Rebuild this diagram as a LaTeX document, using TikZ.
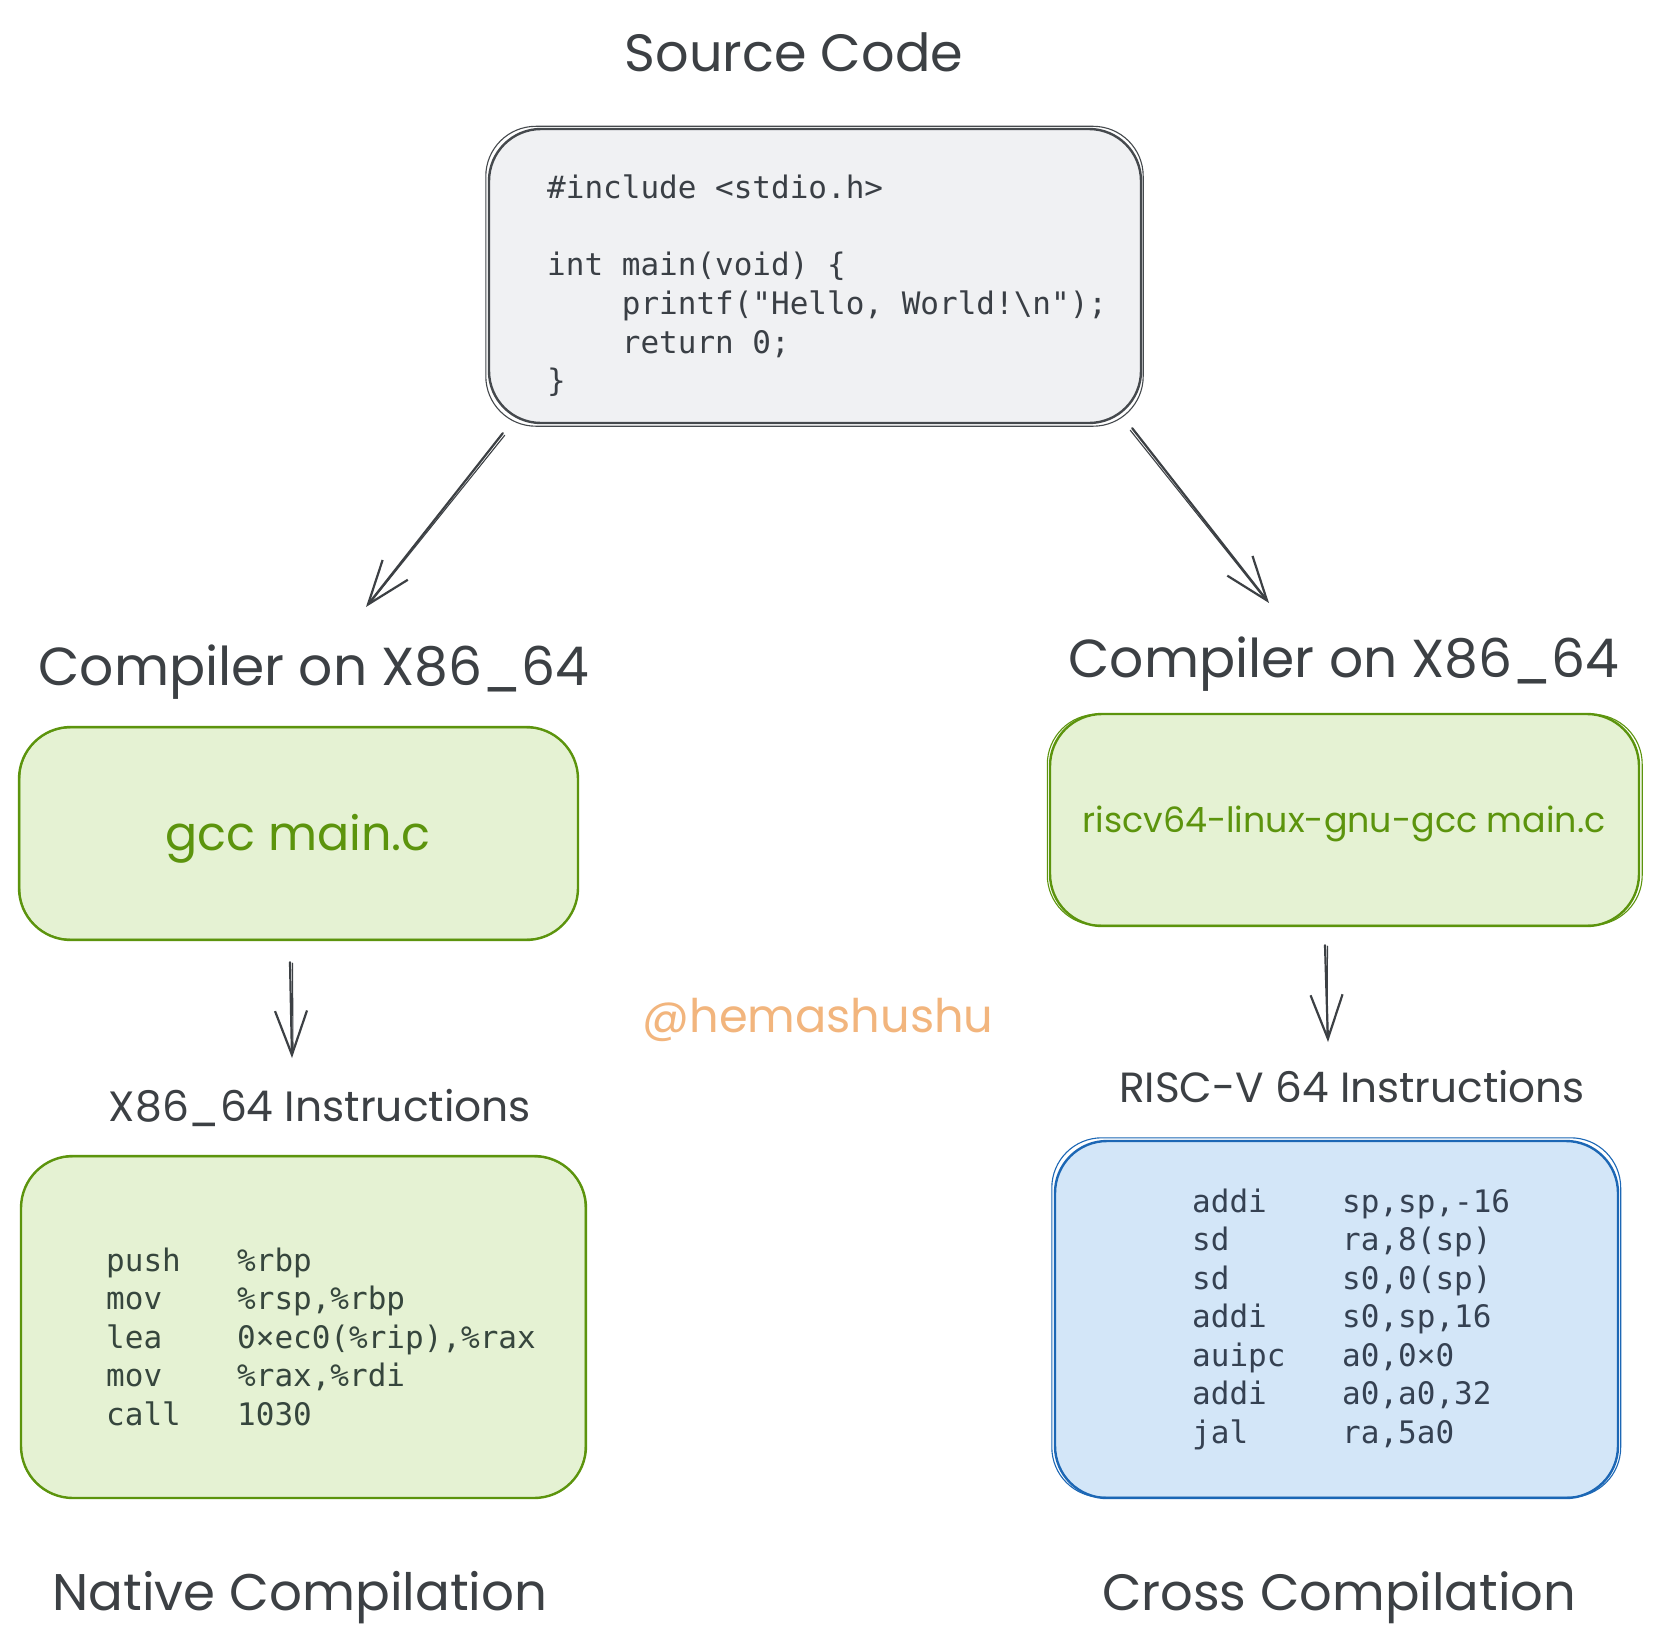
\documentclass[tikz,border=0pt]{standalone}
\usepackage{fontspec}
\setmainfont{Poppins}
\newfontfamily\codefont{DejaVu Sans Mono}
\usetikzlibrary{arrows.meta}
\definecolor{ink}{HTML}{3C4044}
\definecolor{codeink}{HTML}{3A3F45}
\definecolor{greenink}{HTML}{36463D}
\definecolor{blueink}{HTML}{354152}
\definecolor{srcfill}{HTML}{F0F1F3}
\definecolor{srcline}{HTML}{45494D}
\definecolor{gfill}{HTML}{E5F2D3}
\definecolor{gline}{HTML}{5C940D}
\definecolor{bfill}{HTML}{D3E6F8}
\definecolor{bline}{HTML}{1C67B5}
\definecolor{wm}{HTML}{F2B57D}
\newcommand{\fitto}[2]{\resizebox{#1}{!}{#2}}
\begin{document}
\begin{tikzpicture}[x=1pt,y=-1pt,
  hand/.style={inner sep=0pt, text=ink, font=\fontsize{40}{48}\selectfont},
  code/.style={inner sep=0pt, font=\codefont\fontsize{31}{38.5}\selectfont},
  box/.style={draw, rounded corners=52pt, line width=2.4pt, inner sep=0pt},
  srcbox/.style={box, draw=srcline, fill=srcfill},
  gbox/.style={box, draw=gline, fill=gfill},
  bbox/.style={box, draw=bline, fill=bfill},
  ghost/.style={rounded corners=50pt, line width=1.1pt},
  arr/.style={draw=ink, line width=2.2pt, line cap=round,
    -{Straight Barb[length=44pt, width=32pt, line width=2.2pt]}},
  arrghost/.style={draw=ink, line width=1.1pt, line cap=round}
]
\useasboundingbox[fill=white] (0,0) rectangle (1659,1648);

% ---- boxes ----
\node[srcbox, minimum width=652pt, minimum height=294pt] (src) at (815,276) {};
\draw[ghost, draw=srcline] ([shift={(-2,2)}]src.south west) rectangle ([shift={(1,-1.5)}]src.north east);

\node[gbox, minimum width=559pt, minimum height=213pt] (gccL) at (298.5,833.5) {};
\draw[ghost, draw=gline] ([shift={(2,-2)}]gccL.south west) rectangle ([shift={(-1.5,2)}]gccL.north east);

\node[gbox, minimum width=589pt, minimum height=212pt] (gccR) at (1344.5,820) {};
\draw[ghost, draw=gline] ([shift={(-1.5,-2)}]gccR.south west) rectangle ([shift={(2,1.5)}]gccR.north east);

\node[gbox, minimum width=565pt, minimum height=342pt] (asmLbox) at (303.5,1327) {};
\draw[ghost, draw=gline] ([shift={(1.5,-1.5)}]asmLbox.south west) rectangle ([shift={(-2,2)}]asmLbox.north east);

\node[bbox, minimum width=563pt, minimum height=357pt] (asmRbox) at (1336.5,1319.5) {};
\draw[ghost, draw=bline] ([shift={(-2,-2)}]asmRbox.south west) rectangle ([shift={(1.5,-2)}]asmRbox.north east);

% ---- titles ----
\node[hand, anchor=base] (title) at (794,72) {\fitto{338pt}{Source Code}};
\node[hand, anchor=base] (cmpL) at (314,685) {\fitto{551pt}{Compiler on X86\_64}};
\node[hand, anchor=base] (cmpR) at (1344,677) {\fitto{551pt}{Compiler on X86\_64}};
\node[hand, anchor=base, text=gline] (gccLt) at (298,850) {\fitto{265pt}{gcc main.c}};
\node[hand, anchor=base, text=gline] (gccRt) at (1344,832) {\fitto{523pt}{riscv64-linux-gnu-gcc main.c}};
\node[hand, anchor=base, text=wm] (wmk) at (818,1032) {\fitto{351pt}{@hemashushu}};
\node[hand, anchor=base] (insL) at (320,1121) {\fitto{422pt}{X86\_64 Instructions}};
\node[hand, anchor=base] (insR) at (1352,1102) {\fitto{466pt}{RISC-V 64 Instructions}};
\node[hand, anchor=base] (natv) at (300,1610) {\fitto{495pt}{Native Compilation}};
\node[hand, anchor=base] (cross) at (1339,1610) {\fitto{474pt}{Cross Compilation}};

% ---- code ----
\node[code, text=codeink, anchor=base west] (srccode) at (547,199) {%
\begin{tabular}[t]{@{}l@{}}
\#include <stdio.h>\\
\\
int main(void) \{\\
\hphantom{xxxx}printf("Hello, World!\textbackslash n");\\
\hphantom{xxxx}return 0;\\
\}
\end{tabular}};

\node[code, text=greenink, anchor=base west] (asmL) at (106,1271) {%
\begin{tabular}[t]{@{}p{131pt}@{}l@{}}
push & \%rbp\\
mov & \%rsp,\%rbp\\
lea & 0×ec0(\%rip),\%rax\\
mov & \%rax,\%rdi\\
call & 1030
\end{tabular}};

\node[code, text=blueink, anchor=base west] (asmR) at (1192,1212) {%
\begin{tabular}[t]{@{}p{150pt}@{}l@{}}
addi & sp,sp,-16\\
sd & ra,8(sp)\\
sd & s0,0(sp)\\
addi & s0,sp,16\\
auipc & a0,0×0\\
addi & a0,a0,32\\
jal & ra,5a0
\end{tabular}};

% ---- connectors ----
\coordinate (a1e) at (366,607);
\coordinate (a2e) at (1269,603);
\coordinate (a3e) at (292,1058);
\coordinate (a4e) at (1328,1042);

\draw[arr] ([shift={(15,9)}]src.south west) -- (a1e);
\draw[arrghost] ([shift={(17,11)}]src.south west) -- ([shift={(4,-4)}]a1e);
\draw[arr] ([shift={(-10,4)}]src.south east) -- (a2e);
\draw[arrghost] ([shift={(-12,6)}]src.south east) -- ([shift={(-4,-4)}]a2e);
\draw[arr] ([shift={(-8.5,21)}]gccL.south) -- (a3e);
\draw[arrghost] ([shift={(-6,22)}]gccL.south) -- ([shift={(1,-6)}]a3e);
\draw[arr] ([shift={(-19.5,18)}]gccR.south) -- (a4e);
\draw[arrghost] ([shift={(-17,19)}]gccR.south) -- ([shift={(-1,-6)}]a4e);
\end{tikzpicture}
\end{document}
